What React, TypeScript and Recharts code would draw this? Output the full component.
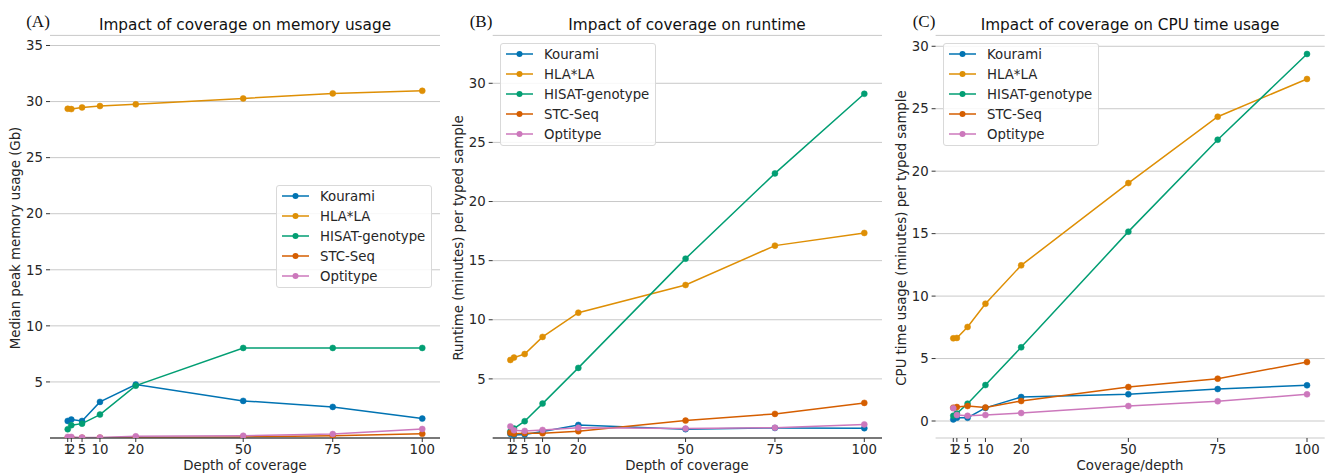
import { LineChart, Line, XAxis, YAxis, CartesianGrid, Legend } from "recharts";

const depths = [1, 2, 5, 10, 20, 50, 75, 100];
const tools = ["Kourami", "HLA*LA", "HISAT-genotype", "STC-Seq", "Optitype"];
const colors = ["#0173b2", "#de8f05", "#029e73", "#d55e00", "#cc78bc"];

// (A) median peak memory (Gb)
const memKourami = [1.52, 1.64, 1.52, 3.22, 4.76, 3.31, 2.77, 1.73];
const memHlaLa = [29.36, 29.33, 29.48, 29.6, 29.75, 30.28, 30.73, 30.96];
const memHisat = [0.78, 1.14, 1.28, 2.09, 4.67, 8.03, 8.03, 8.03];
const memStcSeq = [0.02, 0.02, 0.02, 0.03, 0.05, 0.1, 0.2, 0.37];
const memOptitype = [0.1, 0.1, 0.05, 0.05, 0.15, 0.2, 0.35, 0.8];

// (B) runtime (minutes)
const runKourami = [0.35, 0.25, 0.3, 0.55, 1.1, 0.75, 0.85, 0.83];
const runHlaLa = [6.6, 6.8, 7.1, 8.55, 10.6, 12.94, 16.27, 17.34];
const runHisat = [0.55, 0.8, 1.42, 2.91, 5.93, 15.17, 22.38, 29.11];
const runStcSeq = [0.45, 0.35, 0.4, 0.4, 0.57, 1.47, 2.04, 2.97];
const runOptitype = [0.98, 0.65, 0.6, 0.68, 0.87, 0.8, 0.87, 1.15];

// (C) CPU time (minutes)
const cpuKourami = [0.13, 0.26, 0.26, 1.05, 1.92, 2.14, 2.56, 2.86];
const cpuHlaLa = [6.62, 6.65, 7.53, 9.39, 12.46, 19.05, 24.36, 27.38];
const cpuHisat = [0.42, 0.6, 1.39, 2.88, 5.9, 15.16, 22.52, 29.38];
const cpuStcSeq = [1.07, 1.12, 1.2, 1.09, 1.6, 2.72, 3.39, 4.72];
const cpuOptitype = [1.02, 0.48, 0.42, 0.48, 0.64, 1.2, 1.58, 2.14];

const memTicks = [5, 10, 15, 20, 25, 30, 35];
const runTicks = [5, 10, 15, 20, 25, 30];
const cpuTicks = [0, 5, 10, 15, 20, 25, 30];

const buildRows = (series: number[][]) =>
  depths.map((d, i) => {
    const row: Record<string, number> = { depth: d };
    tools.forEach((t, k) => {
      row[t] = series[k][i];
    });
    return row;
  });

const memRows = buildRows([memKourami, memHlaLa, memHisat, memStcSeq, memOptitype]);
const runRows = buildRows([runKourami, runHlaLa, runHisat, runStcSeq, runOptitype]);
const cpuRows = buildRows([cpuKourami, cpuHlaLa, cpuHisat, cpuStcSeq, cpuOptitype]);

const FONT = "'DejaVu Sans', sans-serif";
const TEXT = "#262626";
const FS = 13.3;

const renderLegend = (props: any) => {
  const payload = [...(props.payload || [])].sort(
    (a: any, b: any) => tools.indexOf(a.value) - tools.indexOf(b.value)
  );
  return (
    <div
      style={{
        width: 156,
        height: 103,
        boxSizing: "border-box",
        border: "1px solid #d9d9d9",
        borderRadius: 3,
        background: "rgba(255,255,255,0.85)",
        fontFamily: FONT,
        fontSize: FS,
        color: TEXT,
      }}
    >
      {payload.map((entry: any) => (
        <div key={entry.value} style={{ display: "flex", alignItems: "center", height: 20 }}>
          <svg width={43} height={20} style={{ flex: "none" }}>
            <line x1={5} x2={32} y1={10} y2={10} stroke={entry.color} strokeWidth={1.5} />
            <circle cx={18.5} cy={10} r={3} fill={entry.color} />
          </svg>
          <span style={{ whiteSpace: "nowrap" }}>{entry.value}</span>
        </div>
      ))}
    </div>
  );
};

interface PanelProps {
  rows: Record<string, number>[];
  left: number;
  width: number;
  yWidth: number;
  rightMargin: number;
  domain: [number, number];
  yTicks: number[];
  spine: boolean;
  legendLeft: number;
  legendTop: number;
}

function Panel(p: PanelProps) {
  return (
    <div style={{ position: "absolute", left: p.left, top: 0 }}>
      <LineChart
        width={p.width}
        height={474}
        data={p.rows}
        margin={{ top: 35.4, right: p.rightMargin, bottom: 6, left: 0 }}
        style={{ fontFamily: FONT }}
      >
        <CartesianGrid horizontal vertical={false} stroke="#c9c9c9" strokeWidth={1} />
        <XAxis
          type="number"
          dataKey="depth"
          domain={[-3.95, 104.95]}
          ticks={depths}
          interval={0}
          allowDataOverflow
          height={30}
          tickSize={4}
          tickMargin={3}
          tick={{ fontSize: FS, fill: TEXT }}
          tickLine={{ stroke: "#333", strokeWidth: 1 }}
          axisLine={p.spine ? { stroke: "#555", strokeWidth: 1.5 } : false}
        />
        <YAxis
          type="number"
          domain={p.domain}
          ticks={p.yTicks}
          interval={0}
          allowDataOverflow
          width={p.yWidth}
          axisLine={false}
          tickSize={4}
          tickMargin={3}
          tick={{ fontSize: FS, fill: TEXT }}
          tickLine={{ stroke: "#333", strokeWidth: 1 }}
        />
        <Legend
          layout="vertical"
          align="center"
          verticalAlign="middle"
          content={renderLegend}
          wrapperStyle={{ left: p.legendLeft, top: p.legendTop, width: "auto", height: "auto" }}
        />
        {tools.map((t, k) => (
          <Line
            key={t}
            type="linear"
            dataKey={t}
            name={t}
            stroke={colors[k]}
            strokeWidth={1.5}
            dot={{ r: 3, fill: colors[k], stroke: colors[k], strokeWidth: 0.5 }}
            activeDot={false}
            isAnimationActive={false}
          />
        ))}
      </LineChart>
    </div>
  );
}

const textAt = (x: number, y: number, extra: Record<string, any> = {}) => ({
  position: "absolute" as const,
  left: x,
  top: y,
  transform: "translate(-50%, -50%)",
  whiteSpace: "nowrap" as const,
  color: TEXT,
  fontFamily: FONT,
  fontSize: FS,
  lineHeight: 1,
  ...extra,
});

const titleStyle = { fontSize: 15.3, color: "#111" };
const letterStyle = { fontFamily: "'Liberation Serif', serif", fontSize: 17, color: "#111" };
const rot = { transform: "translate(-50%, -50%) rotate(-90deg)" };

export default function App() {
  return (
    <div style={{ position: "absolute", left: 0, top: 0, width: 1330, height: 474, background: "#fff", overflow: "hidden" }}>
      <Panel rows={memRows} left={0} width={445} yWidth={50} rightMargin={5} domain={[0, 35.9]} yTicks={memTicks} spine legendLeft={276} legendTop={185} />
      <Panel rows={runRows} left={445} width={445} yWidth={47.7} rightMargin={8} domain={[0, 34.05]} yTicks={runTicks} spine legendLeft={55} legendTop={43} />
      <Panel rows={cpuRows} left={890} width={440} yWidth={45.6} rightMargin={5.3} domain={[-1.36, 30.87]} yTicks={cpuTicks} spine={false} legendLeft={53} legendTop={43} />

      <div style={textAt(38, 21, letterStyle)}>(A)</div>
      <div style={textAt(481, 21, letterStyle)}>(B)</div>
      <div style={textAt(924, 21, letterStyle)}>(C)</div>

      <div style={textAt(245, 26, titleStyle)}>Impact of coverage on memory usage</div>
      <div style={textAt(687, 26, titleStyle)}>Impact of coverage on runtime</div>
      <div style={textAt(1130, 26, titleStyle)}>Impact of coverage on CPU time usage</div>

      <div style={textAt(245, 466)}>Depth of coverage</div>
      <div style={textAt(687, 466)}>Depth of coverage</div>
      <div style={textAt(1130, 466)}>Coverage/depth</div>

      <div style={textAt(16, 238, rot)}>Median peak memory usage (Gb)</div>
      <div style={textAt(459, 238, rot)}>Runtime (minutes) per typed sample</div>
      <div style={textAt(902, 238, rot)}>CPU time usage (minutes) per typed sample</div>
    </div>
  );
}
